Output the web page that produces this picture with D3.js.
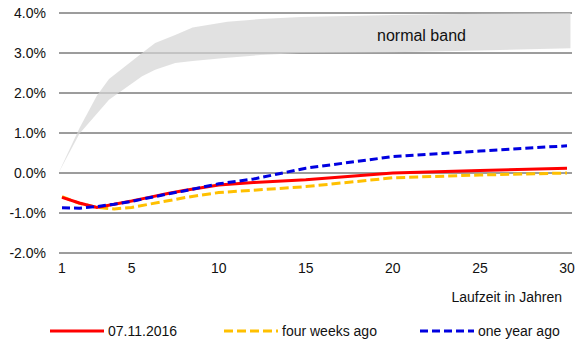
<!DOCTYPE html>
<html>
<head>
<meta charset="utf-8">
<script src="https://cdn.jsdelivr.net/npm/d3@7"></script>
<style>
  html, body { margin: 0; padding: 0; background: #fff; }
  svg { display: block; font-family: "Liberation Sans", Arial, sans-serif; }
</style>
</head>
<body>
<svg id="chart" width="578" height="344"></svg>
<script>
// Maturities in years
const years = [1, 2, 3, 4, 5, 6, 7, 8, 9, 10, 12, 15, 20, 25, 30];

// Yield curves (% p.a.)
const current   = [-0.61, -0.75, -0.86, -0.78, -0.70, -0.61, -0.52, -0.44, -0.37, -0.30, -0.24, -0.17, 0.00, 0.06, 0.12];
const fourWeeks = [-0.59, -0.76, -0.86, -0.90, -0.86, -0.78, -0.70, -0.62, -0.55, -0.49, -0.43, -0.34, -0.12, -0.05, 0.00];
const oneYear   = [-0.87, -0.88, -0.84, -0.78, -0.71, -0.62, -0.53, -0.45, -0.36, -0.27, -0.15, 0.12, 0.41, 0.55, 0.68];

// Normal band (lower / upper edge)
const bandYears = [0.8, 2, 3, 3.7, 5.6, 6.35, 7.5, 8.5, 10.5, 12.4, 14.7, 20, 25, 30.2];
const bandLow   = [0.00, 0.98, 1.48, 1.83, 2.42, 2.58, 2.75, 2.80, 2.88, 2.95, 3.00, 3.02, 3.06, 3.12];
const bandHigh  = [0.00, 1.12, 1.93, 2.35, 3.00, 3.25, 3.45, 3.64, 3.78, 3.85, 3.90, 3.95, 3.98, 4.00];

const yTicks = [-2, -1, 0, 1, 2, 3, 4];
const xTicks = [1, 5, 10, 15, 20, 25, 30];

const seriesNames = ["07.11.2016", "four weeks ago", "one year ago"];
const seriesColors = ["#ff0000", "#ffc000", "#0000e0"];
const seriesDash = [null, "9,4", "8,4"];

const svg = d3.select("#chart");
const x = d3.scaleLinear().domain([1, 30]).range([62, 567]);
const y = d3.scaleLinear().domain([-2, 4]).range([253, 13]);
const gridLeft = 59, gridRight = 572;

// Gridlines
svg.append("g").selectAll("line").data(yTicks).join("line")
  .attr("x1", gridLeft).attr("x2", gridRight)
  .attr("y1", d => y(d)).attr("y2", d => y(d))
  .attr("stroke", "#3a3a3a").attr("stroke-width", 1);

// Normal band
const bandData = bandYears.map((t, i) => ({ t, lo: bandLow[i], hi: bandHigh[i] }));
svg.append("path").datum(bandData)
  .attr("d", d3.area().x(d => x(d.t)).y0(d => y(d.lo)).y1(d => y(d.hi)))
  .attr("fill", "#d4d4d4").attr("fill-opacity", 0.7);

svg.append("text").attr("x", 377).attr("y", 41)
  .attr("font-size", 16).attr("fill", "#111").text("normal band");

// Y axis labels (plain hyphen for negatives)
svg.append("g").selectAll("text").data(yTicks).join("text")
  .attr("x", 46).attr("y", d => y(d)).attr("dy", "0.36em")
  .attr("text-anchor", "end").attr("font-size", 14).attr("fill", "#111")
  .text(d => d.toFixed(1) + "%");

// X axis labels
svg.append("g").selectAll("text").data(xTicks).join("text")
  .attr("x", d => x(d)).attr("y", 273)
  .attr("text-anchor", "middle").attr("font-size", 14).attr("fill", "#111")
  .text(d => d);

svg.append("text").attr("x", 562).attr("y", 302).attr("text-anchor", "end")
  .attr("font-size", 14).attr("fill", "#111").text("Laufzeit in Jahren");

// Yield curves
const allSeries = [current, fourWeeks, oneYear];
const line = d3.line().x(d => x(d[0])).y(d => y(d[1]));
[1, 0, 2].forEach(k => {
  svg.append("path").datum(years.map((t, i) => [t, allSeries[k][i]]))
    .attr("d", line).attr("fill", "none")
    .attr("stroke", seriesColors[k]).attr("stroke-width", 3)
    .attr("stroke-dasharray", seriesDash[k]);
});

// Legend
const legendX = [50, 224, 420];
const legend = svg.append("g").selectAll("g").data(seriesNames).join("g")
  .attr("transform", (d, i) => `translate(${legendX[i]},331)`);
legend.append("line").attr("x1", 0).attr("x2", 54).attr("y1", 0).attr("y2", 0)
  .attr("stroke", (d, i) => seriesColors[i]).attr("stroke-width", 3)
  .attr("stroke-dasharray", (d, i) => seriesDash[i]);
legend.append("text").attr("x", 58).attr("dy", "0.36em")
  .attr("font-size", 14).attr("fill", "#111").text(d => d);
</script>
</body>
</html>
